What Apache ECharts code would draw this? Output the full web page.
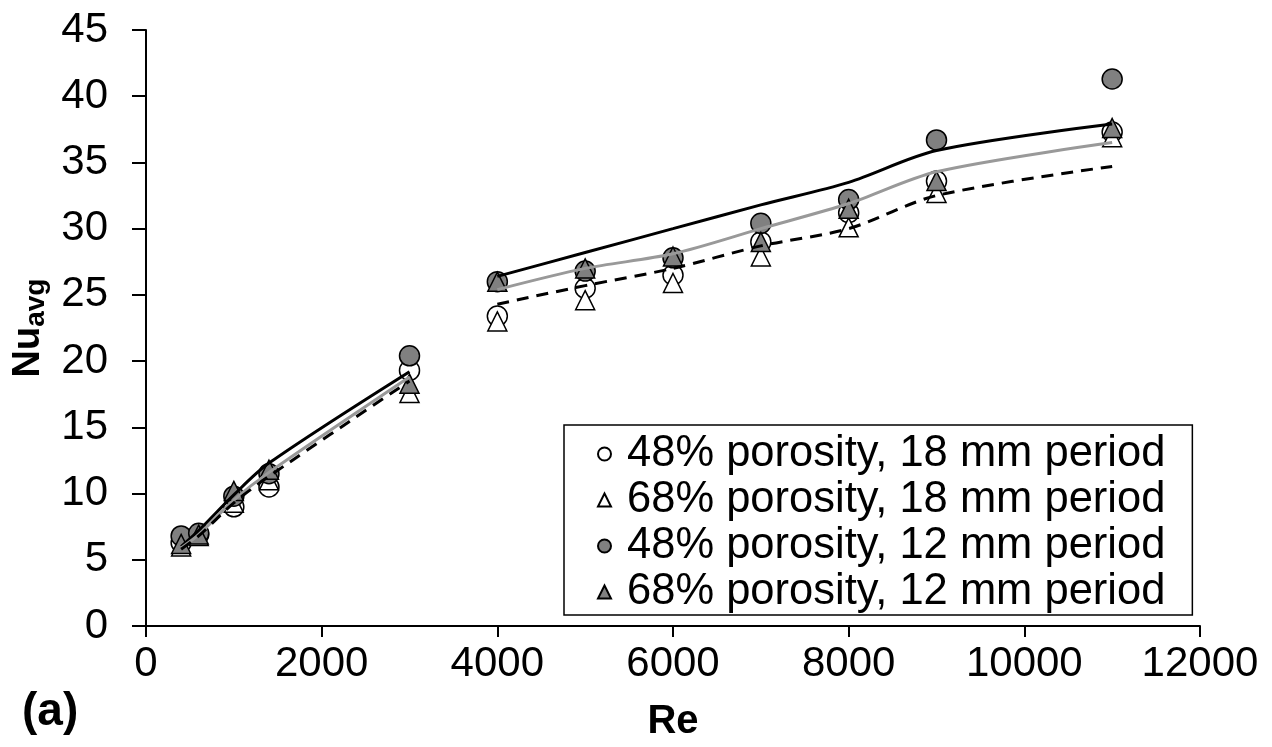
<!DOCTYPE html>
<html>
<head>
<meta charset="utf-8">
<script src="https://cdn.jsdelivr.net/npm/echarts@6/dist/echarts.min.js"></script>
<style>
  html, body { margin: 0; padding: 0; background: #fff; }
  #chart { width: 1272px; height: 747px; }
</style>
</head>
<body>
<div id="chart"></div>
<script>
// Re values of the measured points
const re = [400, 600, 1000, 1400, 3000, 4000, 5000, 6000, 7000, 8000, 9000, 11000]

// measured Nu_avg
const p48_18 = [6.3, 6.9, 9.0, 10.5, 19.3, 23.4, 25.5, 26.5, 29.0, 31.2, 33.6, 37.3]
const p68_18 = [6.0, 6.8, 9.3, 11.0, 17.6, 23.0, 24.6, 25.9, 27.9, 30.1, 32.7, 36.9]
const p48_12 = [6.8, 7.0, 9.8, 11.5, 20.4, 26.0, 26.8, 27.8, 30.4, 32.2, 36.7, 41.3]
const p68_12 = [6.2, 6.9, 10.2, 11.8, 18.3, 26.0, 27.0, 27.9, 29.0, 31.5, 33.6, 37.6]

// correlation curves (break between 3000 and 4000)
const fitBlack = [6.0, 7.2, 9.9, 12.3, 19.2, 26.4, 28.2, 30.0, 31.8, 33.5, 35.9, 37.9]
const fitGray = [5.9, 6.9, 9.5, 11.6, 18.8, 25.4, 27.0, 28.1, 30.0, 31.9, 34.3, 36.5]
const fitDash = [5.8, 6.8, 9.3, 11.3, 18.5, 24.3, 25.7, 27.0, 28.7, 30.0, 32.5, 34.7]

const names = [
    '48% porosity, 18 mm period',
    '68% porosity, 18 mm period',
    '48% porosity, 12 mm period',
    '68% porosity, 12 mm period'
]

const pts = (ys) => re.map((x, i) => [x, ys[i]])
// insert an empty point so the curve breaks at the gap
const curve = (ys) => {
    const d = pts(ys)
    d.splice(5, 0, [3500, null])
    return d
}

const myChart = echarts.init(document.getElementById('chart'))

const font = 'Liberation Sans, Arial, sans-serif'

const marker = (name, data, symbol, fill, size) => ({
    name: name,
    type: 'scatter',
    data: data,
    symbol: symbol,
    symbolSize: size,
    itemStyle: { color: fill, borderColor: '#000', borderWidth: 1.5, opacity: 1 },
    z: 2
})

const line = (data, color, type) => ({
    type: 'line',
    data: data,
    smooth: 0.3,
    symbol: 'none',
    connectNulls: false,
    lineStyle: { color: color, width: 3, type: type },
    z: 3,
    silent: true
})

const option = {
    animation: false,
    backgroundColor: '#fff',
    grid: { left: 146, right: 72, top: 30, bottom: 120 },
    legend: {
        data: names,
        orient: 'vertical',
        left: 564,
        top: 425,
        padding: [6, 27, 0, 33],
        itemGap: 0,
        itemWidth: 13,
        itemHeight: 13,
        backgroundColor: '#fff',
        borderColor: '#000',
        borderWidth: 1.5,
        borderRadius: 0,
        formatter: (name) => '{g|}{t|' + name + '}',
        textStyle: {
            fontSize: 43.5, color: '#000', fontFamily: font, lineHeight: 46,
            rich: {
                g: { width: 11 },
                t: { fontSize: 43.5, color: '#000', fontFamily: font, lineHeight: 46 }
            }
        }
    },
    xAxis: {
        type: 'value',
        min: 0,
        max: 12000,
        interval: 2000,
        name: 'Re',
        nameLocation: 'middle',
        nameGap: 76,
        nameTextStyle: { fontSize: 40, fontWeight: 'bold', color: '#000', fontFamily: font },
        axisLine: { show: true, onZero: false, lineStyle: { color: '#000', width: 2 } },
        axisTick: { show: true, length: 11, lineStyle: { color: '#000', width: 2 } },
        axisLabel: { fontSize: 42, color: '#000', fontFamily: font, margin: 17, formatter: (v) => String(v) },
        splitLine: { show: false }
    },
    yAxis: {
        type: 'value',
        min: 0,
        max: 45,
        interval: 5,
        name: '{a|Nu}{b|avg}',
        nameLocation: 'middle',
        nameGap: 92,
        nameRotate: 90,
        nameTextStyle: {
            color: '#000',
            fontFamily: font,
            rich: {
                a: { fontSize: 38, fontWeight: 'bold', color: '#000', fontFamily: font },
                b: { fontSize: 28, fontWeight: 'bold', color: '#000', fontFamily: font, padding: [16, 0, 0, 0] }
            }
        },
        axisLine: { show: true, lineStyle: { color: '#000', width: 2 } },
        axisTick: { show: true, length: 14, lineStyle: { color: '#000', width: 2 } },
        axisLabel: { fontSize: 42, color: '#000', fontFamily: font, margin: 38 },
        splitLine: { show: false }
    },
    graphic: [{
        type: 'text',
        left: 22,
        top: 689,
        style: { text: '(a)', fontSize: 46, fontWeight: 'bold', fill: '#000', fontFamily: font }
    }],
    series: [
        marker(names[0], pts(p48_18), 'circle', '#fff', 20),
        marker(names[1], pts(p68_18), 'triangle', '#fff', 19),
        marker(names[2], pts(p48_12), 'circle', '#808080', 20),
        marker(names[3], pts(p68_12), 'triangle', '#808080', 19),
        line(curve(fitBlack), '#000', 'solid'),
        line(curve(fitGray), '#999', 'solid'),
        line(curve(fitDash), '#000', [12, 8])
    ]
}

myChart.setOption(option)
</script>
</body>
</html>
